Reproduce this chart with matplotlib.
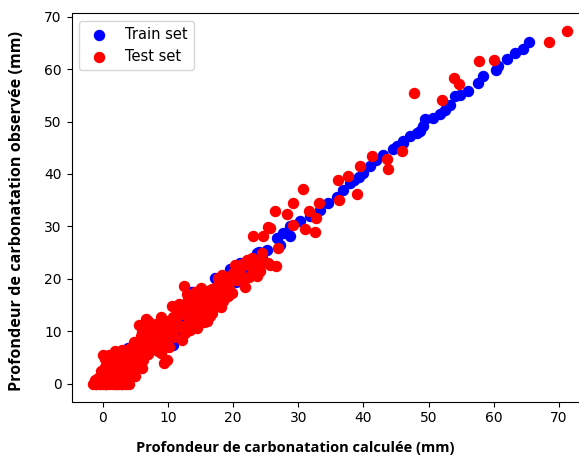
import matplotlib
matplotlib.use("Agg")
import matplotlib.pyplot as plt

train_x = [
    -1.0, 0.5, 2.0, 3.0, 1.0, 2.5, 3.9, 4.0, 5.5, 6.5, 7.5, 8.5, 9.5, 10.8,
    11.5, 12.5, 13.6, 13.9, 14.5, 15.5, 16.5, 17.7, 17.2, 18.5, 19.8, 20.5,
    22.0, 22.5, 23.9, 24.5, 17.5, 19.5, 21.1, 23.6, 25.2, 27.2, 28.7,
    26.7, 27.7, 28.7, 30.3, 31.8, 33.3, 34.6, 35.9, 36.9, 37.9, 40.0, 41.0,
    43.0, 44.6, 46.1, 48.2, 39.3, 38.6, 42.0,
    46.1, 47.1, 48.7, 49.2, 49.4, 50.7, 51.7, 53.3, 54.0, 54.8, 56.1, 57.6,
    58.3, 60.4, 60.7, 62.0, 63.2, 64.5, 65.4, 52.5, 45.2,
]
train_y = [
    0.0, 0.0, 0.0, 0.0, 0.8, 1.6, 6.8, 3.0, 4.5, 5.6, 6.8, 7.6, 8.6, 7.4,
    10.0, 11.5, 17.6, 17.6, 13.2, 14.4, 15.2, 15.4, 20.2, 17.5, 21.8, 19.4,
    21.0, 22.4, 25.2, 24.0, 19.8, 21.8, 23.0, 24.9, 25.6, 26.5, 28.1,
    27.8, 28.8, 30.0, 31.0, 31.9, 33.2, 34.5, 35.7, 37.0, 38.3, 40.2, 41.5,
    43.7, 44.7, 46.2, 47.8, 39.4, 38.9, 42.6,
    45.9, 47.2, 48.1, 49.1, 50.4, 50.6, 51.5, 53.1, 54.8, 55.0, 55.9, 57.4,
    58.6, 59.8, 60.6, 62.0, 63.1, 63.9, 65.2, 52.2, 45.3,
]

# Test set
test_x = [
    -1.5, -1.0, -0.5, 0.0, 0.5, 1.0, 1.5, 2.0, 2.5, 3.0, 3.5, 4.0,
    -0.8, 0.2, 0.8, 1.3, 1.8, 2.2, 2.6, 3.1, 3.5, 3.9, 4.3, 4.6, 5.0, 5.3,
    0.3, 1.0, 1.9, 0.4, -0.3, 2.9, 3.6, 4.2, 5.6, 6.0, 6.4,
    4.8, 5.5, 5.9, 6.3, 6.8, 7.0, 7.3, 7.7, 8.1, 8.3, 8.6, 8.9, 9.2, 9.4,
    9.8, 9.6, 10.0, 10.2, 10.6, 10.5, 6.6, 7.6, 5.2, 9.0,
    11.0, 11.3, 11.7, 12.1, 12.4, 12.3, 12.8, 13.1, 13.4, 13.8, 14.2, 14.4,
    14.6, 15.0, 15.3, 15.6, 16.0, 16.2, 16.5, 11.6, 12.9, 14.0, 15.8,
    16.8, 17.1, 17.7, 17.9, 18.3, 18.5, 18.8, 19.0, 19.4, 19.8, 20.3, 20.6,
    21.0, 21.4, 21.8, 22.1, 22.6, 22.9, 23.1, 23.6, 24.0, 24.4, 24.6, 25.4,
    25.7, 26.6, 26.9, 0.1, 16.0,
    0.7, 1.6, 2.4, 3.3, 4.4, 4.9, 5.8, 6.2, 6.9, 7.4, 7.9, 8.4, 8.8, 9.3,
    9.9, 10.3, 10.8, 11.2, 11.8, 12.2, 12.6, 13.2, 13.7, 14.3, 14.8, 15.4,
    15.9, 16.4, 17.0, 17.4, 18.0, 18.6, 19.2, 19.6, 20.0, 20.8, 21.3, 22.4,
    23.4, 24.2, 2.0, 1.2, -1.2, 3.0, 4.0, 6.0, 7.0, 8.0, 9.5, 11.4, 13.0,
    15.0, 16.8, 18.2, 19.8,
    25.4, 23.1, 24.6, 26.4, 28.2, 31.7, 32.8, 29.2, 31.0, 32.6, 25.7,
    30.8, 29.2, 33.2, 36.3, 39.0, 36.1, 37.7, 39.5, 41.3, 43.6, 43.8, 46.0,
    47.8, 52.0, 53.9, 54.6, 57.8, 60.1, 68.5, 71.3,
]
test_y = [
    0.0, 0.0, 0.0, 0.0, 0.0, 0.0, 0.0, 0.0, 0.0, 0.0, 0.0, 0.0,
    1.2, 1.5, 2.4, 1.0, 3.0, 1.8, 4.0, 2.6, 1.2, 3.4, 2.0, 4.6, 1.5, 3.2,
    4.8, 5.5, 6.2, 3.3, 2.5, 5.3, 5.8, 6.8, 5.0, 3.0, 6.2,
    8.0, 11.3, 9.2, 7.5, 10.2, 5.6, 8.6, 6.8, 11.4, 9.6, 7.4, 5.8, 10.8, 4.0,
    4.6, 8.6, 12.0, 7.0, 14.8, 10.2, 12.3, 9.9, 7.0, 12.8,
    9.0, 12.6, 15.2, 8.4, 18.6, 11.0, 13.8, 16.2, 10.3, 12.4, 17.6, 10.6,
    14.8, 13.2, 16.6, 11.8, 11.9, 15.0, 17.9, 10.9, 15.6, 13.0, 14.0,
    13.6, 16.4, 20.2, 17.4, 20.8, 15.7, 16.7, 19.2, 18.0, 20.6, 22.7, 19.7,
    21.4, 20.0, 18.5, 23.7, 22.4, 24.0, 21.4, 20.5, 22.6, 24.9, 23.2, 23.0,
    22.7, 22.4, 25.9, 5.5, 11.9,
    0.8, 1.9, 2.8, 4.4, 3.8, 5.6, 7.8, 4.6, 8.4, 11.0, 7.9, 6.2, 9.8, 6.8,
    9.4, 11.2, 12.8, 11.6, 13.4, 14.6, 9.6, 12.2, 14.6, 16.0, 12.0, 14.8,
    16.2, 13.0, 15.0, 18.4, 19.0, 18.2, 16.8, 19.6, 21.2, 21.8, 22.8, 20.4,
    23.2, 21.6, 4.8, 3.6, 0.8, 6.5, 5.0, 9.8, 12.0, 10.4, 11.9, 14.2, 17.2,
    18.2, 18.0, 14.6, 17.4,
    29.9, 28.1, 28.1, 32.9, 32.4, 32.9, 31.6, 30.3, 29.6, 29.0, 29.7,
    37.2, 34.5, 34.4, 35.0, 36.2, 38.8, 39.6, 41.5, 43.4, 42.9, 41.0, 44.3,
    55.5, 54.1, 58.3, 57.1, 61.6, 61.8, 65.2, 67.2,
]

fig = plt.figure(figsize=(5.79, 4.59), dpi=100)
ax = fig.add_axes([0.1235, 0.1248, 0.898, 0.846])

ax.scatter(train_x, train_y, s=52, color="blue", label="Train set")
ax.scatter(test_x, test_y, s=52, color="red", label="Test set")

ax.set_xlim(-4.8, 75)
ax.set_ylim(-3.4, 70.6)
ax.set_xticks(range(0, 80, 10))
ax.set_yticks(range(0, 80, 10))
ax.tick_params(labelsize=10)

ax.set_xlabel("Profondeur de carbonatation calculée (mm)",
              family="Open Sans", weight="bold", size=10.5)
ax.xaxis.set_label_coords(0.43, -0.1)
ax.set_ylabel("Profondeur de carbonatation observée (mm)",
              family="Open Sans", weight="bold", size=11.6)
ax.yaxis.set_label_coords(-0.089, 0.49)

ax.legend(loc="upper left", fontsize=10.5)

fig.savefig("out.png", dpi=100)
